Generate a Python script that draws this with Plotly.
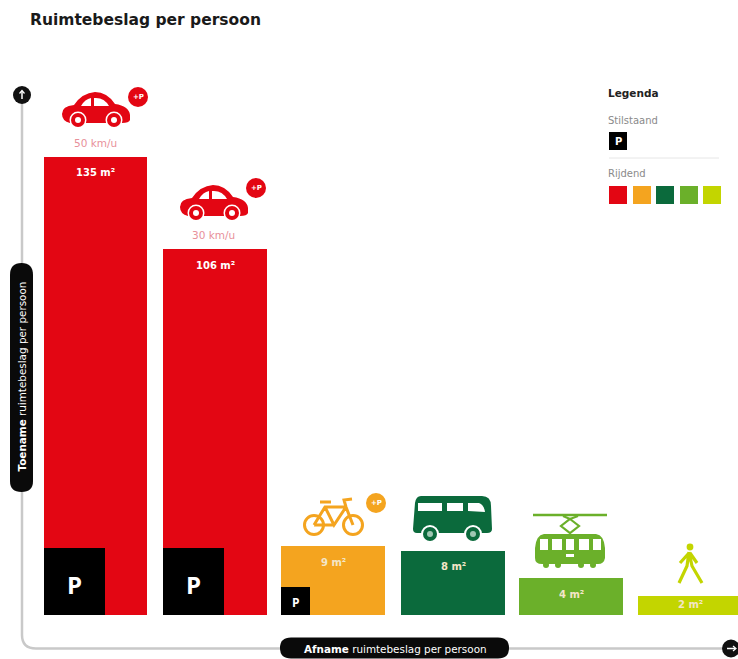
import plotly.graph_objects as go

# ---- data ----
modes = ["Auto 50 km/u", "Auto 30 km/u", "Fiets", "Bus", "Tram", "Voetganger"]
area_labels = ["135 m²", "106 m²", "9 m²", "8 m²", "4 m²", "2 m²"]
speed_labels = ["50 km/u", "30 km/u", "", "", "", ""]
# drawn heights (the graphic is not strictly to scale)
bar_heights = [135, 108, 20.4, 18.9, 10.9, 5.6]
parking_heights = [19.8, 19.8, 8.3]
bar_left = [44, 163, 281, 401, 519, 638]
bar_width = [103, 104, 104, 104, 104, 104]
parking_left = [44, 163, 281]
parking_width = [61, 61, 29]
colors = ["#e30613", "#e30613", "#f4a41f", "#0b6a3c", "#6bb02a", "#c3d500"]
legend_colors = ["#e30613", "#f4a41f", "#0b6a3c", "#6bb02a", "#c3d500"]
title_text = "Ruimtebeslag per persoon"
RED, ORANGE, DKGREEN, GREEN, LIME = legend_colors

W, H = 738, 659
BASE_PX, UNIT = 615, 3.39
FONT = "DejaVu Sans"

fig = go.Figure()
fig.add_trace(go.Bar(x=bar_left, y=bar_heights, width=bar_width, offset=0, name="Rijdend",
                     marker=dict(color=colors, line_width=0), hoverinfo="skip", showlegend=False))
fig.add_trace(go.Bar(x=parking_left, y=parking_heights, width=parking_width, offset=0, name="Stilstaand",
                     marker=dict(color="#000000", line_width=0), hoverinfo="skip", showlegend=False))
fig.add_trace(go.Scatter(x=[0], y=[0], xaxis="x2", yaxis="y2", mode="markers",
                         marker=dict(opacity=0), hoverinfo="skip", showlegend=False))

shapes, ann = [], []


def path(d, fill=None, line=None, lw=0):
    s = dict(type="path", path=d, xref="x2", yref="y2", layer="above",
             line=dict(width=lw, color=line or "rgba(0,0,0,0)"))
    s["fillcolor"] = fill if fill else "rgba(0,0,0,0)"
    shapes.append(s)


def rect(x0, y0, x1, y1, fill):
    shapes.append(dict(type="rect", x0=x0, x1=x1, y0=y0, y1=y1, xref="x2", yref="y2",
                       fillcolor=fill, line_width=0, layer="above"))


def circle(cx, cy, r, fill, line=None, lw=0):
    shapes.append(dict(type="circle", x0=cx - r, x1=cx + r, y0=cy - r, y1=cy + r, xref="x2", yref="y2",
                       fillcolor=fill, line=dict(width=lw, color=line or "rgba(0,0,0,0)"), layer="above"))


def seg(x0, y0, x1, y1, color, lw):
    shapes.append(dict(type="line", x0=x0, x1=x1, y0=y0, y1=y1, xref="x2", yref="y2",
                       line=dict(color=color, width=lw), layer="above"))


def txt(x, y, t, size, color, bold=False, anchor="center", angle=0, family=FONT):
    ann.append(dict(x=x, y=y, xref="x2", yref="y2", text=f"<b>{t}</b>" if bold else t, showarrow=False,
                    xanchor=anchor, yanchor="middle", textangle=angle, borderpad=0, borderwidth=0,
                    font=dict(size=size, color=color, family=family)))


def car(x, y):
    path(f"M{x+0},{y+21} Q{x+0},{y+13} {x+12},{y+12} Q{x+20},{y+0} {x+33},{y-1} "
         f"Q{x+45},{y-1} {x+53},{y+11} Q{x+67},{y+13} {x+68},{y+22} L{x+68},{y+27} "
         f"Q{x+67},{y+30} {x+60},{y+30} L{x+8},{y+30} Q{x+0},{y+28} {x+0},{y+21} Z", fill=RED)
    path(f"M{x+19},{y+13} Q{x+23},{y+6} {x+29},{y+5} L{x+29},{y+13} Z", fill="#ffffff")
    path(f"M{x+32},{y+5} Q{x+42},{y+4} {x+47},{y+13} L{x+32},{y+13} Z", fill="#ffffff")
    for wx in (16, 52):
        circle(x + wx, y + 27, 8.5, "#ffffff")
        circle(x + wx, y + 27, 7, RED)
        circle(x + wx, y + 27, 3, "#ffffff")


def plusp(cx, cy, color):
    circle(cx, cy, 10, color)
    txt(cx, cy, "+P", 7, "#ffffff", bold=True)


# axes
path("M22,95 L22,635 Q22,648.5 36,648.5 L732,648.5", line="#c9c9c9", lw=2.5)
circle(22, 95, 9, "#111111")
seg(22, 99, 22, 91, "#ffffff", 1.5)
path("M19.5,93.5 L22,90.5 L24.5,93.5", line="#ffffff", lw=1.2)
circle(731, 648.5, 9, "#111111")
seg(727, 648.5, 735, 648.5, "#ffffff", 1.5)
path("M733,646 L736,648.5 L733,651", line="#ffffff", lw=1.2)
# pills
path("M10,275 Q10,263 21.5,263 Q33,263 33,275 L33,481 Q33,492 21.5,492 Q10,492 10,481 Z", fill="#0a0a0a")
path("M291,637.5 L498,637.5 Q509,637.5 509,648 Q509,658.5 498,658.5 L291,658.5 Q280,658.5 280,648 Q280,637.5 291,637.5 Z",
     fill="#0a0a0a")
txt(21.5, 377, "<b>Toename</b> ruimtebeslag per persoon", 10.4, "#ffffff", angle=-90)
txt(395, 648.5, "<b>Afname</b> ruimtebeslag per persoon", 10.4, "#ffffff")

# icons
car(62, 93); plusp(138, 97, RED)
car(180, 186); plusp(256, 188, RED)
# bike
for wx in (314, 353):
    circle(wx, 525, 9.5, "rgba(0,0,0,0)", ORANGE, 3)
path("M314,525 L325,507 L346,507 L353,525 M325,507 L334,525 L346,507 M314,525 L334,525 M320,502 L331,502 M346,507 L344,500 L352,499",
     line=ORANGE, lw=3)
plusp(376, 503, ORANGE)
# bus
path("M421,496 L482,496 Q491,496 491,506 L492,529 Q492,533 487,533 L417,533 Q413,533 413,529 "
     "L415,503 Q416,496 421,496 Z", fill=DKGREEN)
rect(418, 503, 442, 511, "#ffffff")
rect(447, 503, 463, 511, "#ffffff")
path("M468,503 L479,503 Q484,505 485,512 L468,511 Z", fill="#ffffff")
for wx in (430, 473):
    circle(wx, 534, 9, "#ffffff")
    circle(wx, 534, 7, DKGREEN)
    circle(wx, 534, 3, "#9fc7b2")
# tram
seg(533, 515, 607, 515, GREEN, 2.6)
path("M570,519 L579,526 L570,533 L561,526 Z M563,516 L570,519 M578,516 L570,519", line=GREEN, lw=2.2)
path("M544,534 L596,534 Q604,535 605,548 L605,558 Q604,564 598,564 L542,564 Q535,564 535,558 L535,548 Q536,535 544,534 Z",
     fill=GREEN)
for a, b in [(540, 548), (552, 562), (566, 574), (579, 589), (593, 601)]:
    rect(a, 539, b, 550, "#ffffff")
rect(566, 554, 574, 557, "#ffffff")
for wx in (546, 558, 581, 593):
    circle(wx, 565, 3, GREEN)
# pedestrian
circle(690, 547, 3.4, LIME)
path("M689,552 L687,566 L679,583 M689,552 L692,566 L702,583 M689,553 L680,563 M690,553 L697,563",
     line=LIME, lw=3.2)

# texts on the chart
ann_y = [172, 265, 562, 566, 594, 604]
for i, lab in enumerate(area_labels):
    cx = bar_left[i] + bar_width[i] / 2
    txt(cx, ann_y[i], lab, 10, "#f3e6c8" if i >= 2 else "#ffffff", bold=True)
txt(95, 143, speed_labels[0], 10.5, "#e8909a")
txt(213, 235, speed_labels[1], 10.5, "#e8909a")
txt(74, 584, "P", 24, "#ffffff", bold=True, family="Open Sans")
txt(193, 584, "P", 24, "#ffffff", bold=True, family="Open Sans")
txt(296, 602, "P", 12, "#ffffff", bold=True, family="Open Sans")

# legend
txt(608, 93, "Legenda", 10.5, "#222222", bold=True, anchor="left")
txt(608, 120, "Stilstaand", 10, "#8a8a8a", anchor="left")
rect(609, 132, 627, 150, "#000000")
txt(618, 141, "P", 10, "#ffffff", bold=True)
seg(609, 158, 719, 158, "#e6e6e6", 1)
txt(608, 173, "Rijdend", 10, "#8a8a8a", anchor="left")
for lx, c in zip([609, 633, 656, 680, 703], legend_colors):
    rect(lx, 186, lx + 18, 204, c)

fig.update_layout(
    width=W, height=H, margin=dict(l=0, r=0, t=0, b=0), autosize=False,
    paper_bgcolor="#ffffff", plot_bgcolor="#ffffff", barmode="overlay", bargap=0,
    title=dict(text=f"<b>{title_text}</b>", x=30 / W, xanchor="left", y=1 - 20 / H, yanchor="middle",
               font=dict(size=15.5, color="#1a1a1a", family=FONT)),
    xaxis=dict(range=[0, W], visible=False, fixedrange=True),
    yaxis=dict(range=[-(H - BASE_PX) / UNIT, BASE_PX / UNIT], visible=False, fixedrange=True),
    xaxis2=dict(range=[0, W], visible=False, overlaying="x", fixedrange=True),
    yaxis2=dict(range=[H, 0], visible=False, overlaying="y", fixedrange=True),
    shapes=shapes, annotations=ann,
)
fig.write_html("out.html", config=dict(displayModeBar=False),
               post_script="document.body.style.margin='0';document.documentElement.style.overflow='hidden';")
